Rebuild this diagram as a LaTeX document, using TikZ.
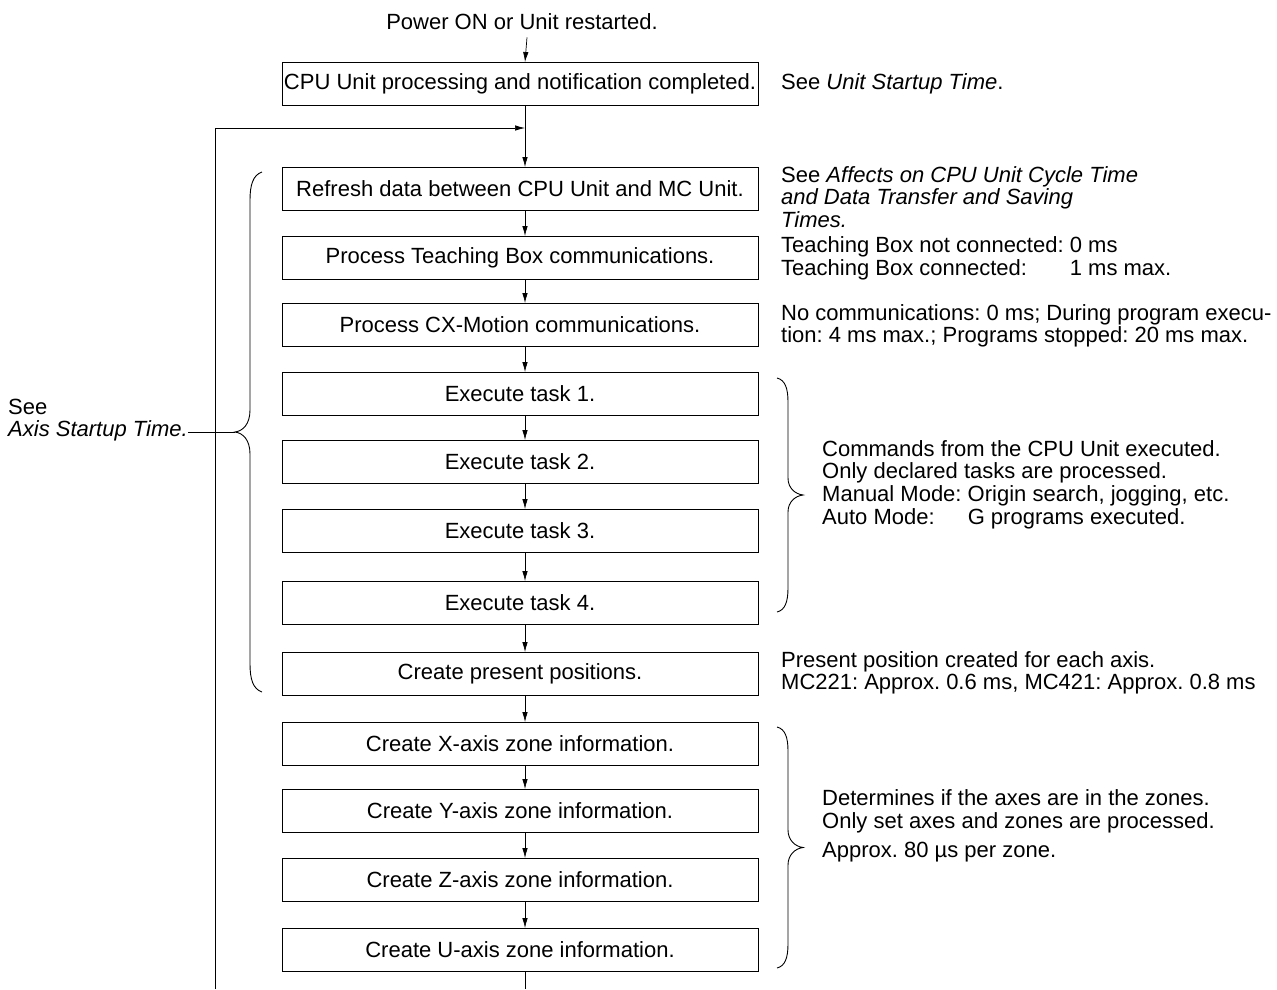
\documentclass[tikz,border=0pt]{standalone}
\usepackage{fontspec}
\setmainfont{Liberation Sans}
\usetikzlibrary{arrows.meta}
\frenchspacing
\begin{document}
\begin{tikzpicture}[x=1pt,y=-1pt,
  font=\fontsize{22}{22.4}\selectfont\frenchspacing,
  box/.style={draw, line width=0.9pt, minimum width=476pt, minimum height=43pt, inner sep=0pt},
  flow/.style={line width=0.7pt, -{Latex[length=10pt,width=5.5pt]}},
  plain/.style={line width=0.7pt},
  note/.style={anchor=west, align=left, inner sep=0pt},
  brace/.style={line width=0.9pt}]
\useasboundingbox (0,0) rectangle (1277,989);

% title
\node[inner sep=0pt] (pw) at (522,22) {Power ON or Unit restarted.};

% boxes
\node[box] (b0) at (520,84) {CPU Unit processing and notification completed.};
\node[box] (b1) at (520,189) {Refresh data between CPU Unit and MC Unit.};
\node[box] (b2) at (520,258) {Process Teaching Box communications.};
\node[box] (b3) at (520,325) {Process CX-Motion communications.};
\node[box] (b4) at (520,394) {Execute task 1.};
\node[box] (b5) at (520,462) {Execute task 2.};
\node[box] (b6) at (520,531) {Execute task 3.};
\node[box] (b7) at (520,603) {Execute task 4.};
\node[box] (b8) at (520,674) {Create present positions.};
\node[box] (b9) at (520,744) {Create X-axis zone information.};
\node[box] (b10) at (520,811) {Create Y-axis zone information.};
\node[box] (b11) at (520,880) {Create Z-axis zone information.};
\node[box] (b12) at (520,950) {Create U-axis zone information.};

% connectors
\draw[flow] ([xshift=5pt,yshift=-7pt]pw.south) -- ([xshift=5pt]b0.north);
\draw[flow] ([xshift=5pt]b0.south) -- ([xshift=5pt]b1.north);
\foreach \a/\b in {b1/b2,b2/b3,b3/b4,b4/b5,b5/b6,b6/b7,b7/b8,b8/b9,b9/b10,b10/b11,b11/b12}
  \draw[flow] ([xshift=5pt]\a.south) -- ([xshift=5pt]\b.north);
\coordinate (eb) at (525,989);
\draw[plain] ([xshift=5pt]b12.south) -- (eb);

% feedback loop
\coordinate (jn) at (525,128);
\coordinate (lb) at (215,989);
\draw[flow] (lb) |- (jn);

% right notes
\node[note] (n0) at (781,84) {See \textit{Unit Startup Time}.};
\node[note] (n1) at (781,197) {See \textit{Affects on CPU Unit Cycle Time}\\\textit{and Data Transfer and Saving}\\\textit{Times.}};
\node[note] (n2) at (781,259.5) {\begin{tabular}{@{}l@{\hspace{0.28em}}l@{}}Teaching Box not connected: & 0 ms\\ Teaching Box connected: & 1 ms max.\end{tabular}};
\node[note] (n3) at (781,326) {No communications: 0 ms; During program execu-\\tion: 4 ms max.; Programs stopped: 20 ms max.};
\node[note] (n4) at (822,485.5) {\begin{tabular}{@{}l@{\hspace{0.28em}}l@{}}\multicolumn{2}{@{}l@{}}{Commands from the CPU Unit executed.}\\ \multicolumn{2}{@{}l@{}}{Only declared tasks are processed.}\\ Manual Mode: & Origin search, jogging, etc.\\ Auto Mode: & G programs executed.\end{tabular}};
\node[note] (n5) at (781,672.5) {Present position created for each axis.\\MC221: Approx. 0.6 ms, MC421: Approx. 0.8 ms};
\node[note] (n6) at (822,826) {Determines if the axes are in the zones.\\Only set axes and zones are processed.\\[7pt]Approx. 80 µs per zone.};

% left note
\node[note] (see) at (8,420) {See\\\textit{Axis Startup Time.}};
\coordinate (lt) at (235,432);
\draw[plain] (see.east |- lt) -- (lt);

% braces
\draw[brace] (262,172) .. controls (253,175) and (250,185) .. (250,200) -- (250,410)
  .. controls (250,424) and (243,431) .. (235,432)
  .. controls (243,433) and (250,440) .. (250,454) -- (250,664)
  .. controls (250,679) and (253,689) .. (262,692);
\draw[brace] (777,378) .. controls (785,380) and (788,388) .. (788,402) -- (788,478)
  .. controls (788,488) and (795,494) .. (803,495)
  .. controls (795,496) and (788,502) .. (788,512) -- (788,588)
  .. controls (788,602) and (785,610) .. (777,612);
\draw[brace] (777,727) .. controls (785,729) and (788,737) .. (788,751) -- (788,830)
  .. controls (788,840) and (795,846.5) .. (803,847.5)
  .. controls (795,848.5) and (788,855) .. (788,865) -- (788,944)
  .. controls (788,958) and (785,966) .. (777,968);
\end{tikzpicture}
\end{document}
